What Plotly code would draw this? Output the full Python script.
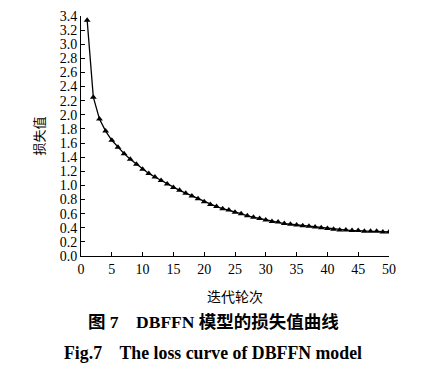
import plotly.graph_objects as go

epochs = list(range(1, 51))
loss = [3.34, 2.25, 1.94, 1.77, 1.64, 1.54, 1.45, 1.37, 1.30, 1.23,
        1.17, 1.12, 1.07, 1.02, 0.97, 0.93, 0.89, 0.85, 0.81, 0.77,
        0.73, 0.70, 0.67, 0.65, 0.62, 0.60, 0.57, 0.55, 0.53, 0.51,
        0.49, 0.48, 0.46, 0.45, 0.44, 0.43, 0.42, 0.41, 0.40, 0.39,
        0.38, 0.37, 0.37, 0.36, 0.36, 0.35, 0.35, 0.35, 0.34, 0.34]

x_title = "迭代轮次"
y_title = "损失值"
caption_cn = "<b>图 7    DBFFN 模型的损失值曲线</b>"
caption_en = "<b>Fig.7    The loss curve of DBFFN model</b>"

font_main = "Liberation Serif, Times New Roman, Noto Sans CJK SC, serif"

fig = go.Figure()
fig.add_trace(go.Scatter(
    x=epochs, y=loss, mode="lines+markers",
    line=dict(color="black", width=1.3),
    marker=dict(symbol="triangle-up", size=6, color="black"),
    showlegend=False,
))

W, H = 423, 374
ml, mr, mt, mb = 73, 42, 8, 126
pw = W - ml - mr
ph = H - mt - mb

fig.update_layout(
    width=W, height=H,
    margin=dict(l=ml, r=mr, t=mt, b=mb),
    paper_bgcolor="white", plot_bgcolor="white",
    font=dict(family=font_main, size=14, color="black"),
    xaxis=dict(
        range=[0, 50], dtick=5, tick0=0,
        showline=True, linecolor="black", linewidth=1,
        ticks="inside", ticklen=4, tickcolor="black",
        showgrid=False, zeroline=False, automargin=False,
        ticklabeloverflow="allow",
        title=dict(text=x_title, standoff=16,
                   font=dict(family="Noto Sans CJK SC", size=14)),
        tickfont=dict(size=14),
    ),
    yaxis=dict(
        range=[0, 3.4001], tickvals=[i / 5 for i in range(18)],
        tickformat=".1f",
        showline=True, linecolor="black", linewidth=1,
        ticks="inside", ticklen=4, tickcolor="black",
        showgrid=False, zeroline=False, automargin=False,
        ticklabeloverflow="allow",
        title=dict(text=y_title, standoff=12,
                   font=dict(family="Noto Sans CJK SC", size=13)),
        tickfont=dict(size=14),
    ),
    annotations=[
        dict(text=caption_cn, xref="paper", yref="paper",
             x=132 / pw, y=-66 / ph,
             showarrow=False, xanchor="center", yanchor="middle",
             font=dict(family="Liberation Serif, Noto Sans CJK SC", size=17.5)),
        dict(text=caption_en, xref="paper", yref="paper",
             x=132 / pw, y=-97 / ph,
             showarrow=False, xanchor="center", yanchor="middle",
             font=dict(family="Liberation Serif", size=17.8)),
    ],
)

fig.write_html("out.html")
